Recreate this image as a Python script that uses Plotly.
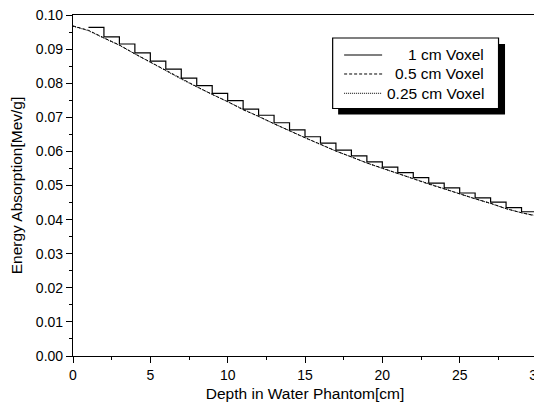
import plotly.graph_objects as go

# ---- data ----
voxel1_left_edges = list(range(1, 30))  # 1 cm voxel steps start at 1..29
voxel1_values = [0.0964, 0.0936, 0.0915, 0.0889, 0.0865, 0.0841, 0.0815, 0.0793,
                 0.0770, 0.0749, 0.0724, 0.0706, 0.0684, 0.0663, 0.0643, 0.0624,
                 0.0604, 0.0587, 0.0569, 0.0554, 0.0538, 0.0523, 0.0507, 0.0493,
                 0.0478, 0.0464, 0.0451, 0.0435, 0.0423]
depth_end = 30

depth_pts = list(range(0, 31))
voxel05_values = [0.0968, 0.0955, 0.0933, 0.0912, 0.0886, 0.0862, 0.0838, 0.0812,
                  0.0790, 0.0767, 0.0746, 0.0722, 0.0703, 0.0681, 0.0660, 0.0640,
                  0.0621, 0.0601, 0.0584, 0.0566, 0.0551, 0.0535, 0.0520, 0.0504,
                  0.0490, 0.0475, 0.0461, 0.0448, 0.0432, 0.0420, 0.0410]
voxel025_values = [0.0967, 0.0954, 0.0932, 0.0911, 0.0886, 0.0861, 0.0837, 0.0812,
                   0.0789, 0.0767, 0.0745, 0.0722, 0.0702, 0.0681, 0.0660, 0.0640,
                   0.0620, 0.0601, 0.0583, 0.0566, 0.0550, 0.0535, 0.0519, 0.0504,
                   0.0489, 0.0475, 0.0461, 0.0447, 0.0432, 0.0420, 0.0411]

names = ["1 cm Voxel", "0.5 cm Voxel", "0.25 cm Voxel"]
dashes = ["solid", "3px,2px", "1px,1px"]
widths = [1.2, 1, 1]

x_title = "Depth in Water Phantom[cm]"
y_title = "Energy Absorption[Mev/g]"

FONT = "Arial, 'Liberation Sans', sans-serif"

fig = go.Figure()
fig.add_trace(go.Scatter(
    x=voxel1_left_edges + [depth_end], y=voxel1_values + [voxel1_values[-1]],
    mode="lines", line=dict(color="black", width=widths[0], shape="hv"),
    name=names[0], showlegend=False))
fig.add_trace(go.Scatter(
    x=depth_pts, y=voxel05_values, mode="lines",
    line=dict(color="black", width=widths[1], dash=dashes[1]),
    name=names[1], showlegend=False))
fig.add_trace(go.Scatter(
    x=depth_pts, y=voxel025_values, mode="lines",
    line=dict(color="black", width=widths[2], dash=dashes[2]),
    name=names[2], showlegend=False))

axis_common = dict(
    showgrid=False, zeroline=False, showline=True, linecolor="black", linewidth=1.2,
    mirror=True, ticks="outside", ticklen=6, tickwidth=1.2, tickcolor="black",
    tickfont=dict(family=FONT, size=14, color="black"),
    ticklabeloverflow="allow", automargin=False,
)

fig.update_xaxes(range=[0, 30], tick0=0, dtick=5,
                 minor=dict(ticks="outside", ticklen=3, dtick=2.5, tickcolor="black", tickwidth=1.2),
                 title=dict(text=x_title, font=dict(family=FONT, size=15.5, color="black"), standoff=6),
                 **axis_common)
fig.update_yaxes(range=[0, 0.1], tick0=0, dtick=0.01, tickformat=".2f",
                 minor=dict(ticks="outside", ticklen=3, dtick=0.005, tickcolor="black", tickwidth=1.2),
                 title=dict(text=y_title, font=dict(family=FONT, size=15.5, color="black"), standoff=13),
                 **axis_common)

# ---- hand-drawn legend box with drop shadow (paper coords) ----
fig.add_shape(type="rect", xref="paper", yref="paper",
              x0=0.5714, x1=0.9311, y0=0.7082, y1=0.915,
              fillcolor="black", line=dict(width=0), layer="above")
fig.add_shape(type="rect", xref="paper", yref="paper",
              x0=0.5596, x1=0.9171, y0=0.7258, y1=0.9326,
              fillcolor="white", line=dict(color="black", width=1.2), layer="above")
legend_rows = [0.8827, 0.8270, 0.7704]
for nm, dsh, wd, yy in zip(names, dashes, widths, legend_rows):
    fig.add_shape(type="line", xref="paper", yref="paper",
                  x0=0.5843, x1=0.6662, y0=yy, y1=yy,
                  line=dict(color="black", width=wd, dash=dsh), layer="above")
    fig.add_annotation(xref="paper", yref="paper", x=0.8902, y=yy,
                       xanchor="right", yanchor="middle", showarrow=False,
                       text=nm, font=dict(family=FONT, size=15.5, color="black"))

fig.update_layout(
    width=534, height=404,
    margin=dict(l=65, r=5, t=7, b=56),
    paper_bgcolor="white", plot_bgcolor="white",
    font=dict(family=FONT, color="black"),
    showlegend=False,
)

fig.write_html("out.html")
